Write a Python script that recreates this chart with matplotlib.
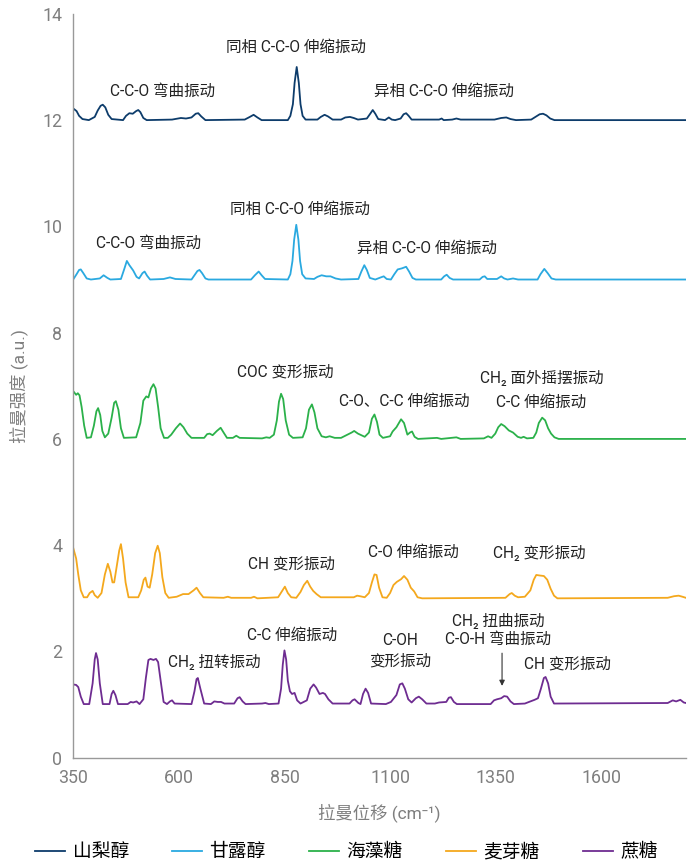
import matplotlib
matplotlib.use("Agg")
import matplotlib.pyplot as plt

plt.rcParams['font.family'] = ['Roboto', 'Noto Sans CJK SC', 'DejaVu Sans']

# spectra: (raman shift cm-1, intensity a.u.)
sorbitol = [(350,12.22),(358,12.17),(364,12.08),(372,12.02),(387,12.0),(401,12.06),(408,12.18),(415,12.27),(420,12.29),
            (426,12.24),(433,12.1),(441,12.02),(468,12.0),(475,12.08),(483,12.13),(491,12.12),(499,12.17),(504,12.19),
            (509,12.15),(516,12.04),(524,12.0),(584,12.01),(605,12.04),(617,12.03),(630,12.05),(640,12.12),(646,12.13),
            (653,12.07),(663,12.0),(756,12.01),(768,12.06),(777,12.1),(786,12.05),(796,12.0),(858,12.0),(864,12.08),
            (870,12.3),(874,12.7),(879,13.0),(884,12.7),(888,12.3),(893,12.08),(900,12.01),(928,12.01),(936,12.06),
            (945,12.1),(953,12.07),(964,12.01),(984,12.01),(994,12.05),(1005,12.06),(1014,12.04),(1024,12.01),(1045,12.03),
            (1053,12.12),(1059,12.19),(1065,12.12),(1072,12.02),(1088,12.0),(1097,12.05),(1104,12.01),(1112,12.0),
            (1125,12.03),(1132,12.11),(1138,12.13),(1144,12.08),(1151,12.01),(1216,12.01),(1222,12.03),(1227,12.0),
            (1247,12.01),(1257,12.03),(1267,12.01),(1347,12.01),(1363,12.04),(1375,12.05),(1385,12.02),(1398,12.0),
            (1434,12.01),(1446,12.07),(1454,12.11),(1462,12.12),(1470,12.09),(1479,12.03),(1489,12.0),(1800,12.0)]

mannitol = [(350,9.0),(358,9.1),(364,9.18),(368,9.19),(374,9.12),(382,9.02),(392,9.0),(413,9.02),(422,9.08),(431,9.03),
            (438,9.0),(463,9.01),(471,9.2),(477,9.35),(483,9.27),(492,9.17),(500,9.05),(506,9.02),(514,9.12),(519,9.15),
            (525,9.07),(532,9.0),(564,9.01),(579,9.04),(592,9.01),(630,9.0),(637,9.08),(644,9.16),(649,9.18),(655,9.12),
            (663,9.02),(670,9.0),(771,9.0),(780,9.08),(789,9.15),(796,9.08),(804,9.01),(858,9.0),(864,9.1),(869,9.35),
            (873,9.75),(878,10.03),(883,9.75),(887,9.35),(892,9.1),(900,9.02),(920,9.01),(928,9.05),(938,9.08),(949,9.06),
            (959,9.06),(971,9.02),(984,9.0),(1025,9.01),(1032,9.15),(1039,9.27),(1045,9.18),(1052,9.03),(1065,9.0),
            (1078,9.04),(1085,9.06),(1092,9.01),(1102,9.0),(1110,9.1),(1118,9.19),(1128,9.21),(1138,9.24),(1145,9.15),
            (1153,9.03),(1161,9.0),(1221,9.0),(1228,9.06),(1234,9.09),(1241,9.03),(1249,9.0),(1312,9.0),(1319,9.05),
            (1324,9.06),(1330,9.01),(1353,9.01),(1363,9.06),(1370,9.02),(1378,9.0),(1391,9.02),(1403,9.0),(1449,9.0),
            (1456,9.1),(1465,9.2),(1473,9.12),(1482,9.02),(1492,9.0),(1800,9.0)]

trehalose = [(350,6.9),(357,6.83),(361,6.86),(365,6.82),(370,6.6),(376,6.25),(382,6.02),(392,6.03),(399,6.25),(405,6.52),
             (409,6.58),(414,6.45),(419,6.15),(425,6.03),(433,6.1),(441,6.4),(447,6.68),(451,6.71),(457,6.55),(463,6.2),
             (470,6.02),(499,6.03),(509,6.3),(516,6.72),(523,6.8),(528,6.78),(534,6.95),(540,7.03),(545,6.95),(551,6.6),
             (557,6.2),(565,6.02),(574,6.02),(582,6.08),(593,6.2),(603,6.29),(611,6.22),(620,6.1),(630,6.02),(660,6.02),
             (667,6.09),(673,6.1),(680,6.07),(690,6.15),(699,6.21),(706,6.12),(714,6.02),(728,6.02),(736,6.06),(744,6.02),
             (797,6.01),(807,6.03),(815,6.02),(825,6.08),(832,6.35),(837,6.7),(842,6.85),(847,6.75),(853,6.35),(861,6.08),
             (870,6.02),(893,6.03),(901,6.2),(908,6.55),(915,6.65),(921,6.5),(928,6.2),(938,6.05),(948,6.03),(957,6.05),
             (969,6.02),(984,6.02),(999,6.08),(1009,6.12),(1015,6.15),(1024,6.1),(1040,6.04),(1050,6.12),(1057,6.38),
             (1063,6.46),(1069,6.32),(1075,6.08),(1083,6.02),(1100,6.05),(1106,6.14),(1115,6.22),(1126,6.37),(1133,6.3),
             (1141,6.08),(1147,6.12),(1152,6.14),(1158,6.04),(1166,6.0),(1211,6.02),(1221,6.0),(1257,6.03),(1267,6.0),
             (1322,6.01),(1332,6.05),(1340,6.02),(1349,6.1),(1356,6.22),(1363,6.28),(1371,6.24),(1381,6.16),(1391,6.12),
             (1402,6.04),(1410,6.02),(1416,6.04),(1424,6.01),(1439,6.02),(1446,6.12),(1452,6.3),(1460,6.4),(1467,6.35),
             (1474,6.2),(1481,6.1),(1489,6.03),(1499,6.0),(1800,6.0)]

maltose = [(350,3.95),(357,3.75),(362,3.45),(368,3.15),(375,3.02),(383,3.02),(389,3.1),(396,3.14),(401,3.06),(408,3.01),
           (417,3.1),(425,3.45),(432,3.65),(438,3.5),(443,3.3),(447,3.3),(453,3.6),(459,3.9),(463,4.02),(468,3.75),
           (474,3.3),(481,3.02),(504,3.02),(511,3.15),(517,3.35),(521,3.39),(526,3.22),(531,3.2),(537,3.45),(544,3.85),
           (550,3.99),(555,3.85),(561,3.4),(568,3.1),(576,3.01),(595,3.03),(610,3.08),(623,3.08),(635,3.15),(642,3.2),
           (650,3.1),(658,3.02),(706,3.01),(716,3.03),(724,3.01),(771,3.01),(778,3.03),(786,3.0),(835,3.02),(843,3.12),
           (851,3.22),(858,3.1),(866,3.02),(878,3.01),(888,3.12),(896,3.25),(904,3.33),(911,3.22),(918,3.14),(926,3.08),
           (936,3.02),(1014,3.02),(1022,3.05),(1029,3.04),(1040,3.02),(1050,3.1),(1057,3.3),(1063,3.45),(1068,3.44),
           (1074,3.2),(1082,3.02),(1092,3.01),(1100,3.1),(1108,3.25),(1116,3.31),(1126,3.36),(1133,3.42),(1141,3.35),
           (1149,3.2),(1157,3.13),(1165,3.02),(1176,3.0),(1373,3.01),(1383,3.08),(1388,3.1),(1395,3.05),(1403,3.02),
           (1419,3.03),(1432,3.15),(1440,3.35),(1446,3.44),(1454,3.43),(1464,3.42),(1472,3.35),(1480,3.18),(1488,3.05),
           (1496,3.0),(1757,3.01),(1772,3.04),(1783,3.05),(1792,3.03),(1800,3.01)]

sucrose = [(350,1.38),(357,1.37),(362,1.33),(368,1.15),(375,1.01),(388,1.01),(396,1.4),(401,1.85),(404,1.97),(408,1.85),
           (413,1.4),(420,1.01),(436,1.01),(441,1.2),(445,1.26),(450,1.18),(456,1.01),(479,1.01),(486,1.05),(492,1.04),
           (500,1.06),(507,1.01),(516,1.1),(522,1.5),(528,1.84),(533,1.86),(540,1.84),(546,1.86),(551,1.8),(557,1.45),
           (564,1.05),(572,1.01),(579,1.06),(584,1.08),(590,1.02),(630,1.01),(637,1.25),(642,1.48),(645,1.5),(651,1.3),
           (660,1.02),(676,1.01),(684,1.06),(692,1.05),(700,1.05),(708,1.02),(731,1.02),(739,1.12),(744,1.14),(751,1.06),
           (758,1.01),(797,1.02),(805,1.03),(813,1.01),(836,1.02),(842,1.3),(846,1.75),(850,2.02),(854,1.85),(858,1.45),
           (863,1.25),(868,1.2),(874,1.22),(880,1.08),(888,1.02),(903,1.08),(911,1.3),(919,1.38),(925,1.32),(933,1.2),
           (941,1.22),(946,1.2),(954,1.1),(964,1.02),(1004,1.02),(1011,1.08),(1016,1.1),(1025,1.03),(1030,1.01),
           (1036,1.2),(1042,1.3),(1048,1.22),(1055,1.02),(1090,1.01),(1102,1.05),(1115,1.18),(1123,1.38),(1129,1.4),
           (1135,1.3),(1143,1.1),(1151,1.04),(1161,1.12),(1168,1.15),(1176,1.1),(1186,1.02),(1206,1.02),(1216,1.04),
           (1233,1.05),(1239,1.13),(1244,1.14),(1251,1.05),(1258,1.01),(1338,1.01),(1346,1.08),(1353,1.1),(1363,1.12),
           (1370,1.16),(1377,1.15),(1385,1.06),(1393,1.01),(1419,1.02),(1432,1.06),(1442,1.09),(1450,1.12),(1457,1.3),
           (1464,1.5),(1468,1.52),(1474,1.4),(1480,1.15),(1488,1.02),(1757,1.03),(1769,1.08),(1777,1.06),(1787,1.09),
           (1795,1.04),(1800,1.03)]

names = ['山梨醇', '甘露醇', '海藻糖', '麦芽糖', '蔗糖']
colors = ['#0d3c6b', '#2aa9e0', '#2bb14a', '#f4a81d', '#6e2c91']
spectra = [sorbitol, mannitol, trehalose, maltose, sucrose]

# band labels: (x, y, text)
labels = [
    (562, 12.55, 'C-C-O 弯曲振动'),
    (878, 13.37, '同相 C-C-O 伸缩振动'),
    (1227, 12.55, '异相 C-C-O 伸缩振动'),
    (528, 9.68, 'C-C-O 弯曲振动'),
    (886, 10.33, '同相 C-C-O 伸缩振动'),
    (1188, 9.58, '异相 C-C-O 伸缩振动'),
    (853, 7.26, 'COC 变形振动'),
    (1133, 6.71, 'C-O、C-C 伸缩振动'),
    (1459, 7.15, 'CH₂ 面外摇摆振动'),
    (1457, 6.68, 'C-C 伸缩振动'),
    (866, 3.65, 'CH 变形振动'),
    (1154, 3.86, 'C-O 伸缩振动'),
    (1453, 3.86, 'CH₂ 变形振动'),
    (684, 1.81, 'CH₂ 扭转振动'),
    (867, 2.31, 'C-C 伸缩振动'),
    (1123, 2.2, 'C-OH'),
    (1123, 1.83, '变形振动'),
    (1356, 2.58, 'CH₂ 扭曲振动'),
    (1356, 2.22, 'C-O-H 弯曲振动'),
    (1519, 1.77, 'CH 变形振动'),
]

fig = plt.figure(figsize=(6.97, 8.65), dpi=100)
ax = fig.add_axes([0.105, 0.124, 0.879, 0.86])

for pts, c, n in zip(spectra, colors, names):
    xs = [p[0] for p in pts]
    ys = [p[1] for p in pts]
    ax.plot(xs, ys, color=c, lw=1.3, label=n)

for x, y, t in labels:
    ax.text(x, y, t, ha='center', va='center', fontsize=11.2, color='#222222')

ax.annotate('', xy=(1365, 1.3), xytext=(1365, 2.02),
            arrowprops=dict(arrowstyle='-|>', color='#333333', lw=0.8, mutation_scale=8))

ax.set_xlim(350, 1800)
ax.set_ylim(0, 14)
ax.set_xticks([350, 600, 850, 1100, 1350, 1600])
ax.set_yticks(range(0, 15, 2))
for s in ['top', 'right']:
    ax.spines[s].set_visible(False)
for s in ['left', 'bottom']:
    ax.spines[s].set_color('#999999')
    ax.spines[s].set_linewidth(1.0)
ax.tick_params(length=0, labelsize=12.8, labelcolor='#7f7f7f', pad=8)
ax.set_xlabel('拉曼位移 (cm⁻¹)', fontsize=12.5, color='#7f7f7f', labelpad=12)
ax.set_ylabel('拉曼强度 (a.u.)', fontsize=12.5, color='#7f7f7f', labelpad=10)

fig.legend(loc='center', bbox_to_anchor=(0.497, 0.015), ncol=5, frameon=False,
           fontsize=13.5, handlelength=1.6, handletextpad=0.4, columnspacing=2.3)

fig.savefig('out.png', dpi=100)
